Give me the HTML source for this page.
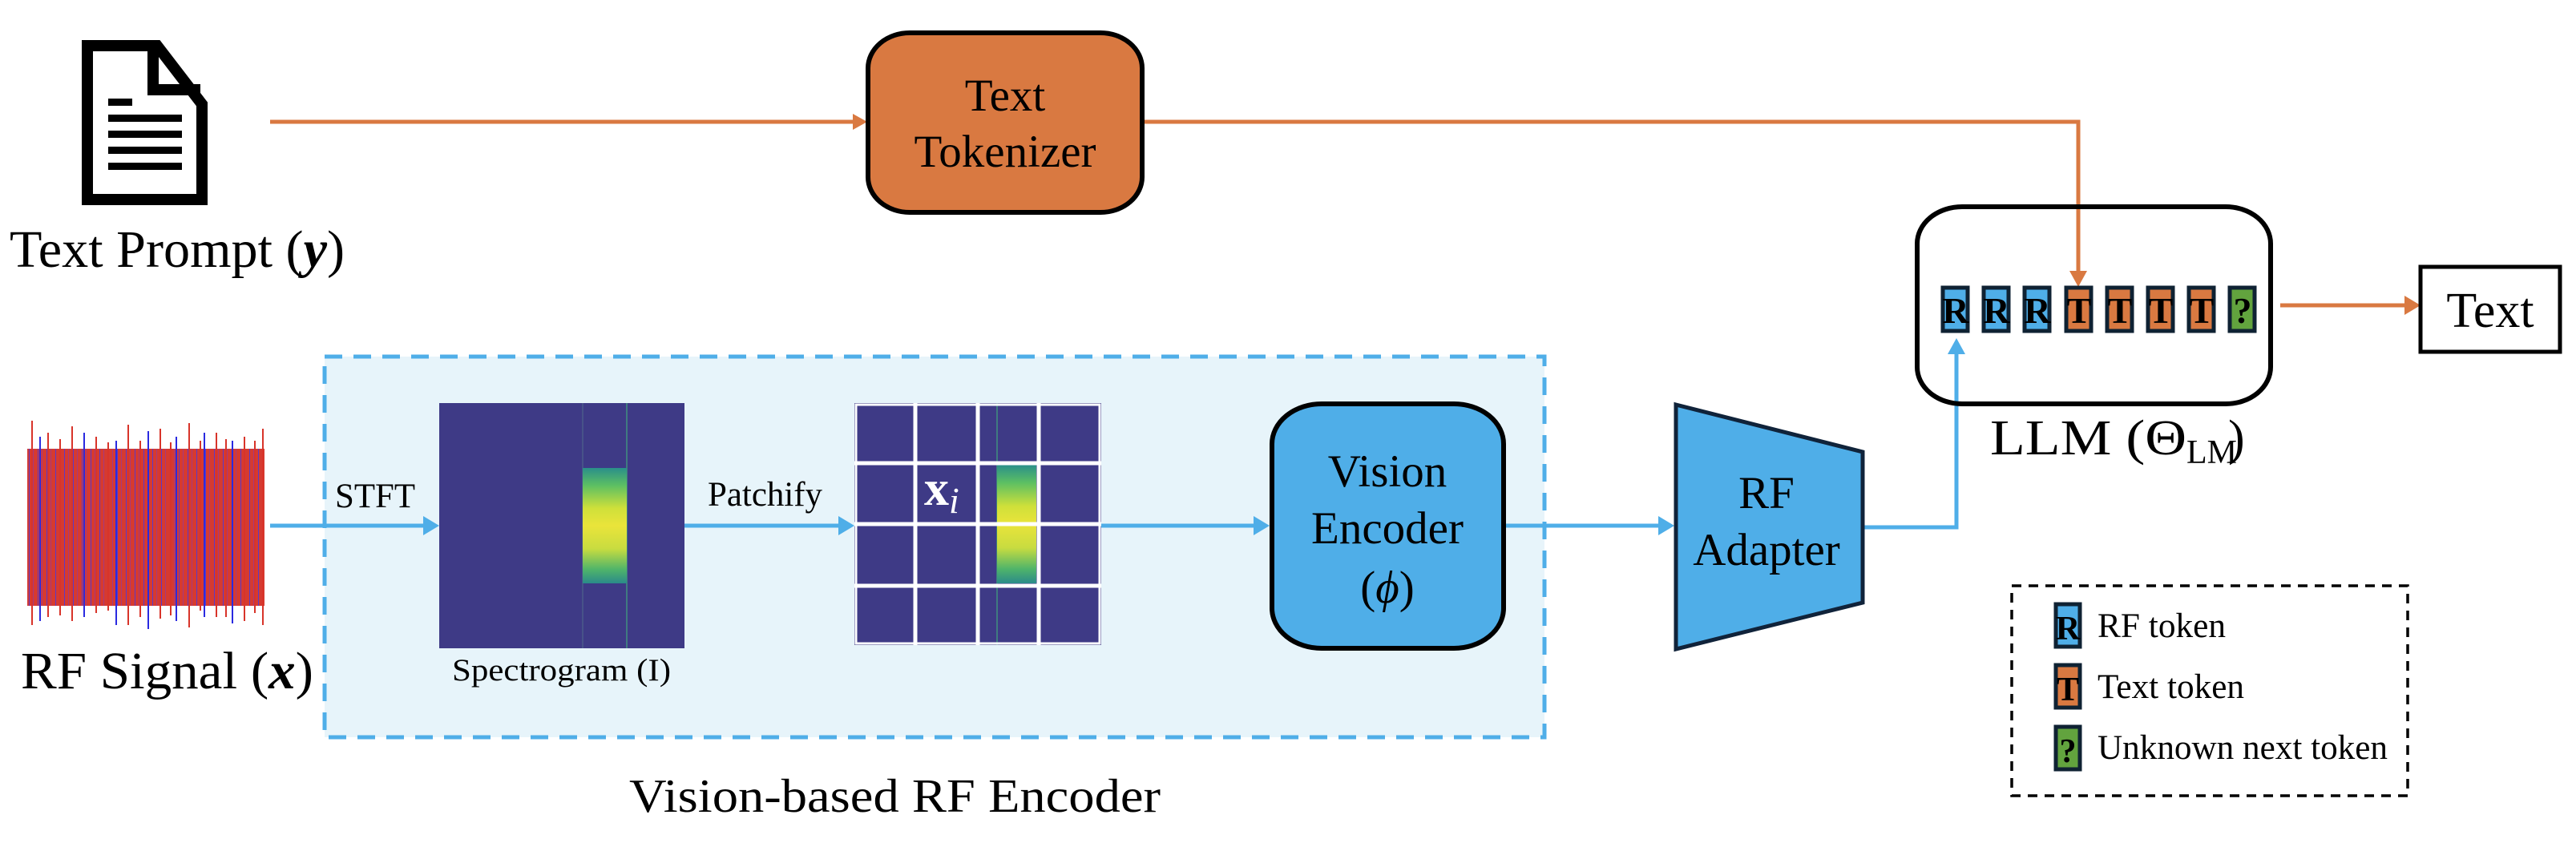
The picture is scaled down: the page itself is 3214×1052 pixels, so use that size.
<!DOCTYPE html>
<html><head><meta charset="utf-8"><style>
html,body{margin:0;padding:0;background:#fff;}
svg{display:block;}
text{font-family:"Liberation Serif",serif;fill:#000;}
</style></head><body>
<svg width="3214" height="1052" viewBox="0 0 3214 1052" xmlns="http://www.w3.org/2000/svg">
<defs>
<linearGradient id="band" x1="0" y1="0" x2="0" y2="1">
<stop offset="0" stop-color="#2a8f8a"/><stop offset="0.15" stop-color="#5cbf63"/><stop offset="0.35" stop-color="#cfe03a"/><stop offset="0.5" stop-color="#eae43a"/><stop offset="0.7" stop-color="#c8dc40"/><stop offset="0.88" stop-color="#4fb46a"/><stop offset="1" stop-color="#2a8a8a"/>
</linearGradient>
<pattern id="wave" width="11" height="10" patternUnits="userSpaceOnUse">
<rect width="11" height="10" fill="#d63a30"/><rect x="3" width="1" height="10" fill="#5a3ac8"/><rect x="8" width="0.8" height="10" fill="#9a3a90"/>
</pattern>
</defs>

<!-- document icon -->
<path d="M109,57 L196,57 L252,130 L252,249 L109,249 Z" fill="#fff" stroke="#000" stroke-width="14"/>
<path d="M191,57 L191,112 L250,112" fill="none" stroke="#000" stroke-width="14"/>
<rect x="135" y="123" width="30" height="9" fill="#000"/>
<rect x="135" y="143" width="92" height="9" fill="#000"/>
<rect x="135" y="163" width="92" height="9" fill="#000"/>
<rect x="135" y="183" width="92" height="9" fill="#000"/>
<rect x="135" y="203" width="92" height="9" fill="#000"/>
<text x="12" y="333" font-size="66" textLength="418" lengthAdjust="spacingAndGlyphs">Text Prompt (<tspan font-weight="bold" font-style="italic">y</tspan>)</text>

<!-- orange connectors -->
<line x1="337" y1="152" x2="1064" y2="152" stroke="#D97941" stroke-width="5"/>
<path d="M1064,142 L1082,152 L1064,162z" fill="#D97941"/>
<polyline points="1425,152 2593,152 2593,340" fill="none" stroke="#D97941" stroke-width="5"/>
<path d="M2582,338 L2593,358 L2604,338z" fill="#D97941"/>

<!-- tokenizer -->
<rect x="1083" y="41" width="342" height="224" rx="52" ry="44" fill="#D97941" stroke="#000" stroke-width="6"/>
<text x="1254" y="138" font-size="57" text-anchor="middle">Text</text>
<text x="1254" y="208" font-size="57" text-anchor="middle">Tokenizer</text>

<!-- encoder container -->
<rect x="405" y="445" width="1522" height="475" fill="#E7F4FA" stroke="#4FAEE8" stroke-width="5" stroke-dasharray="22,14"/>
<text x="785" y="1013" font-size="59" textLength="663" lengthAdjust="spacingAndGlyphs">Vision-based RF Encoder</text>

<!-- waveform -->
<rect x="34" y="560" width="296" height="196" fill="url(#wave)"/>
<g stroke="#d8342a" stroke-width="2">
<line x1="40" y1="525" x2="40" y2="780"/><line x1="60" y1="540" x2="60" y2="770"/><line x1="90" y1="532" x2="90" y2="775"/><line x1="120" y1="545" x2="120" y2="765"/><line x1="160" y1="530" x2="160" y2="780"/><line x1="200" y1="535" x2="200" y2="772"/><line x1="236" y1="528" x2="236" y2="783"/><line x1="270" y1="540" x2="270" y2="770"/><line x1="305" y1="545" x2="305" y2="775"/><line x1="328" y1="535" x2="328" y2="780"/>
<line x1="75" y1="548" x2="75" y2="768"/><line x1="135" y1="552" x2="135" y2="762"/><line x1="175" y1="550" x2="175" y2="770"/><line x1="213" y1="552" x2="213" y2="768"/><line x1="250" y1="550" x2="250" y2="762"/><line x1="282" y1="548" x2="282" y2="770"/><line x1="318" y1="550" x2="318" y2="765"/>
</g>
<g stroke="#2a2ae0" stroke-width="2">
<line x1="50" y1="545" x2="50" y2="775"/><line x1="105" y1="540" x2="105" y2="770"/><line x1="145" y1="550" x2="145" y2="780"/><line x1="185" y1="538" x2="185" y2="785"/><line x1="220" y1="545" x2="220" y2="775"/><line x1="255" y1="540" x2="255" y2="770"/><line x1="290" y1="550" x2="290" y2="778"/>
</g>
<text x="26" y="859" font-size="66" textLength="365" lengthAdjust="spacingAndGlyphs">RF Signal (<tspan font-weight="bold" font-style="italic">x</tspan>)</text>

<!-- blue arrows -->
<g stroke="#4FAEE8" stroke-width="5" fill="none">
<line x1="337" y1="656" x2="530" y2="656"/>
<line x1="854" y1="656" x2="1048" y2="656"/>
<line x1="1374" y1="656" x2="1566" y2="656"/>
<line x1="1876" y1="656" x2="2071" y2="656"/>
<polyline points="2325,658 2441,658 2441,440"/>
</g>
<g fill="#4FAEE8">
<path d="M528,644 L548,656 L528,668z"/>
<path d="M1046,644 L1066,656 L1046,668z"/>
<path d="M1564,644 L1584,656 L1564,668z"/>
<path d="M2069,644 L2089,656 L2069,668z"/>
<path d="M2430,442 L2441,422 L2452,442z"/>
</g>
<text x="418" y="633" font-size="43" textLength="100" lengthAdjust="spacingAndGlyphs">STFT</text>
<text x="883" y="631" font-size="43" textLength="143" lengthAdjust="spacingAndGlyphs">Patchify</text>

<!-- spectrogram -->
<rect x="548" y="503" width="306" height="306" fill="#3e3a86"/>
<line x1="727" y1="503" x2="727" y2="809" stroke="#4a5a8a" stroke-width="1.5"/>
<line x1="782" y1="503" x2="782" y2="809" stroke="#3f7a80" stroke-width="2"/>
<rect x="727" y="584" width="55" height="144" fill="url(#band)"/>
<text x="564" y="849" font-size="39" textLength="273" lengthAdjust="spacingAndGlyphs">Spectrogram (I)</text>

<!-- patch grid -->
<rect x="1066" y="503" width="308" height="302" fill="#3e3a86"/>
<line x1="1244" y1="503" x2="1244" y2="805" stroke="#3f7a80" stroke-width="2"/>
<rect x="1244" y="580" width="49" height="148" fill="url(#band)"/>
<g stroke="#fff" stroke-width="5">
<line x1="1142" y1="503" x2="1142" y2="805"/><line x1="1220" y1="503" x2="1220" y2="805"/><line x1="1296" y1="503" x2="1296" y2="805"/>
<line x1="1066" y1="578" x2="1374" y2="578"/><line x1="1066" y1="654" x2="1374" y2="654"/><line x1="1066" y1="731" x2="1374" y2="731"/>
<rect x="1068" y="505" width="304" height="298" fill="none" stroke-width="3"/>
</g>
<text x="1153" y="630" font-size="62" font-weight="bold" style="fill:#fff">x<tspan font-style="italic" font-weight="normal" font-size="46" dy="10" style="fill:#fff">i</tspan></text>

<!-- vision encoder -->
<rect x="1587" y="504" width="289" height="305" rx="62" ry="50" fill="#4FAEE8" stroke="#000" stroke-width="6"/>
<text x="1731" y="607" font-size="57" text-anchor="middle">Vision</text>
<text x="1731" y="678" font-size="57" text-anchor="middle">Encoder</text>
<text x="1731" y="752" font-size="57" text-anchor="middle">(<tspan font-style="italic">ϕ</tspan>)</text>

<!-- RF adapter -->
<path d="M2091,505 L2324,564 L2324,752 L2091,810 Z" fill="#4FAEE8" stroke="#10233a" stroke-width="5"/>
<text x="2204" y="634" font-size="57" text-anchor="middle">RF</text>
<text x="2204" y="705" font-size="57" text-anchor="middle">Adapter</text>

<!-- LLM -->
<rect x="2392" y="258" width="441" height="246" rx="56" ry="46" fill="none" stroke="#000" stroke-width="6"/>
<g stroke="#0f2233" stroke-width="5">
<rect x="2424" y="359" width="31" height="54" fill="#4FAEE8"/>
<rect x="2475" y="359" width="31" height="54" fill="#4FAEE8"/>
<rect x="2526" y="359" width="31" height="54" fill="#4FAEE8"/>
<rect x="2578" y="359" width="31" height="54" fill="#D97941"/>
<rect x="2629" y="359" width="31" height="54" fill="#D97941"/>
<rect x="2680" y="359" width="31" height="54" fill="#D97941"/>
<rect x="2731" y="359" width="31" height="54" fill="#D97941"/>
<rect x="2782" y="359" width="31" height="54" fill="#62A33E"/>
</g>
<g font-size="46" font-weight="bold" text-anchor="middle">
<text x="2440" y="403">R</text><text x="2491" y="403">R</text><text x="2542" y="403">R</text>
<text x="2594" y="403">T</text><text x="2645" y="403">T</text><text x="2696" y="403">T</text><text x="2747" y="403">T</text><text x="2798" y="403">?</text>
</g>
<text x="2483" y="567" font-size="62" textLength="245" lengthAdjust="spacingAndGlyphs">LLM (Θ</text>
<text x="2728" y="578" font-size="42">LM</text>
<text x="2780" y="567" font-size="62">)</text>

<!-- output -->
<line x1="2845" y1="381" x2="3002" y2="381" stroke="#D97941" stroke-width="5"/>
<path d="M3000,369 L3020,381 L3000,393z" fill="#D97941"/>
<rect x="3020" y="333" width="174" height="106" fill="#fff" stroke="#000" stroke-width="5"/>
<text x="3107" y="408" font-size="62" text-anchor="middle">Text</text>

<!-- legend -->
<rect x="2510" y="731" width="494" height="262" fill="none" stroke="#000" stroke-width="3.5" stroke-dasharray="12,9"/>
<g stroke="#0f2233" stroke-width="5">
<rect x="2565" y="754" width="30" height="53" fill="#4FAEE8"/>
<rect x="2565" y="830" width="30" height="53" fill="#D97941"/>
<rect x="2565" y="907" width="30" height="53" fill="#62A33E"/>
</g>
<g font-size="42" font-weight="bold" text-anchor="middle">
<text x="2580" y="798">R</text><text x="2580" y="874">T</text><text x="2580" y="951">?</text>
</g>
<text x="2617" y="795" font-size="43" textLength="160" lengthAdjust="spacingAndGlyphs">RF token</text>
<text x="2617" y="871" font-size="43" textLength="183" lengthAdjust="spacingAndGlyphs">Text token</text>
<text x="2617" y="947" font-size="43" textLength="362" lengthAdjust="spacingAndGlyphs">Unknown next token</text>
</svg>
</body></html>
